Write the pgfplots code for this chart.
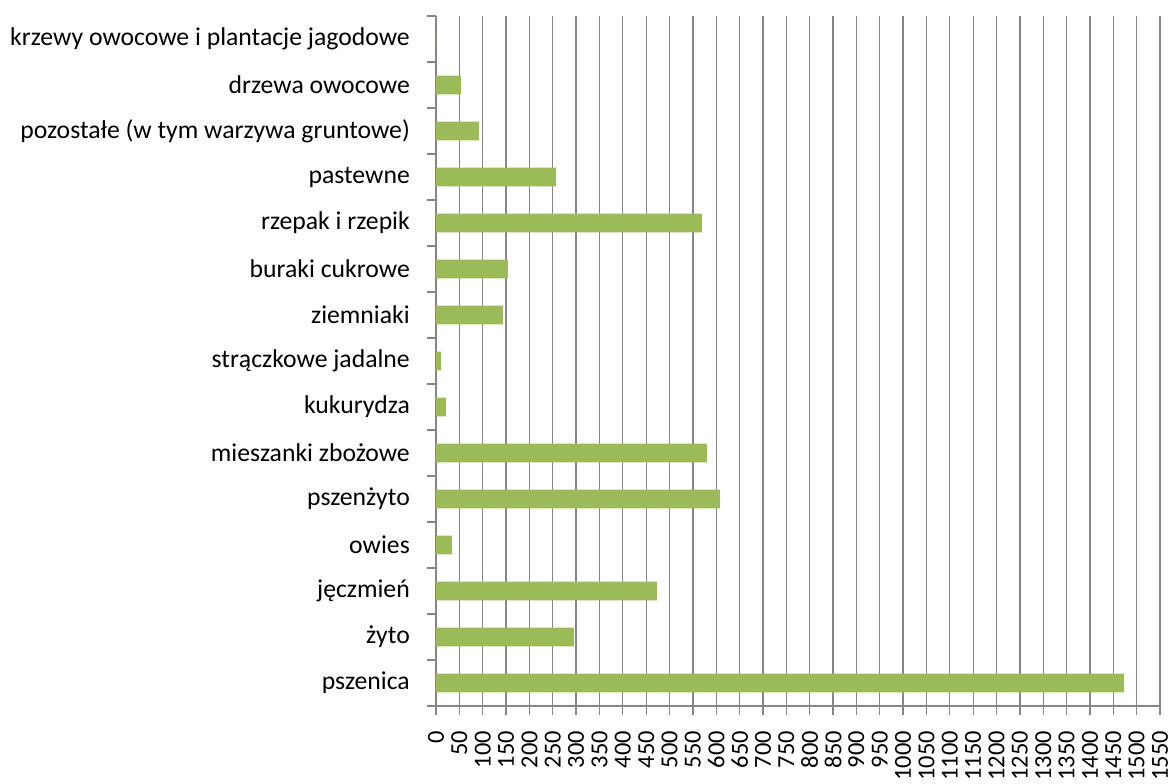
\documentclass[border=0pt]{standalone}
\usepackage{fontspec}
\setmainfont{Carlito}
\usepackage{pgfplots}
\pgfplotsset{compat=1.18}
\definecolor{barg}{HTML}{9BBB59}
\definecolor{axg}{HTML}{868686}
\begin{document}
\begin{tikzpicture}
\useasboundingbox (-436bp,-78bp) rectangle (737bp,706bp);
\begin{axis}[
  at={(0,0)}, anchor=south west,
  scale only axis, width=724bp, height=690bp,
  xmin=0, xmax=1550, ymin=0.5, ymax=15.5,
  axis x line=bottom, axis y line=left,
  axis line style={-, draw=axg, line width=2bp},
  xtick={0,50,...,1550},
  xmajorgrids, grid style={draw=axg, line width=1.3bp},
  tick align=outside, major tick length=9bp,
  tick style={draw=axg, line width=1.3bp},
  /pgf/number format/assume math mode=true,
  /pgf/number format/1000 sep={},
  xticklabel style={rotate=90, anchor=east, inner sep=0pt, font=\fontsize{24.5}{24.5}\selectfont},
  xticklabel shift=16bp,
  ytick={0.5,1.5,...,15.5}, yticklabels={},
  extra y ticks={1,2,...,15},
  extra y tick labels={pszenica,żyto,jęczmień,owies,pszenżyto,mieszanki zbożowe,kukurydza,strączkowe jadalne,ziemniaki,buraki cukrowe,rzepak i rzepik,pastewne,pozostałe (w tym warzywa gruntowe),drzewa owocowe,krzewy owocowe i plantacje jagodowe},
  extra y tick style={major tick length=0pt, tick style={draw=none}},
  yticklabel style={anchor=east, inner sep=0pt, xshift=-26bp, font=\fontsize{25.8}{25.8}\selectfont},
]
\addplot[xbar, bar width=18.7bp, fill=barg, draw=none] coordinates {
  (1473,1) (295,2) (473,3) (34,4) (608,5) (580,6) (21,7) (11,8)
  (143,9) (154,10) (569,11) (257,12) (92,13) (53,14) (0,15)
};
\end{axis}
\end{tikzpicture}
\end{document}
